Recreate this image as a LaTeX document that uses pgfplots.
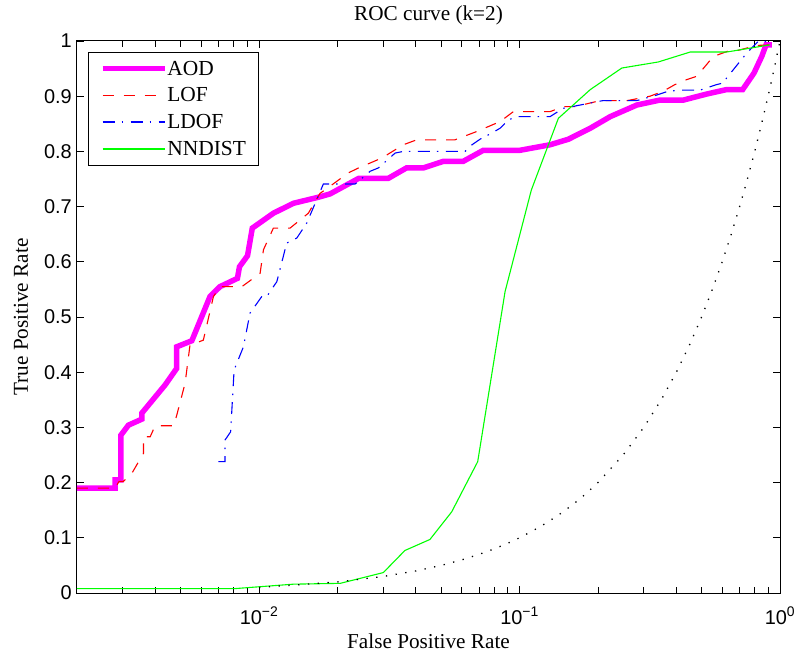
\documentclass[border=0pt]{standalone}
\usepackage{pgfplots}
\pgfplotsset{compat=1.18}
\usepackage{fontspec}
\setmainfont{Liberation Serif}
\newfontfamily\ticksfont{Liberation Sans}
\definecolor{mag}{rgb}{1,0,1}
\definecolor{grn}{rgb}{0,1,0}
\tikzset{
  aodst/.style={draw=mag, line width=5.5bp, dash pattern=},
  lofst/.style={draw=red, line width=1.1bp, dash pattern=on 11bp off 10bp},
  ldofst/.style={draw=blue, line width=1.1bp, dash pattern=on 12bp off 7bp on 1.5bp off 7.5bp},
  nnst/.style={draw=grn, line width=1.1bp, dash pattern=},
}
\begin{document}
\begin{tikzpicture}
\useasboundingbox (0,0) rectangle (798bp,654bp);
\begin{axis}[
  at={(77bp,61bp)}, anchor=south west,
  scale only axis, width=703bp, height=552bp,
  xmode=log, xmin=0.002, xmax=1, ymin=0, ymax=1,
  xtick={0.01,0.1,1},
  xticklabels={10\textsuperscript{−2},10\textsuperscript{−1},10\textsuperscript{0}},
  minor xtick={0.003,0.004,0.005,0.006,0.007,0.008,0.009,0.02,0.03,0.04,0.05,0.06,0.07,0.08,0.09,0.2,0.3,0.4,0.5,0.6,0.7,0.8,0.9},
  ytick={0,0.1,0.2,0.3,0.4,0.5,0.6,0.7,0.8,0.9,1},
  yticklabels={0,0.1,0.2,0.3,0.4,0.5,0.6,0.7,0.8,0.9,1},
  tick align=inside, major tick length=7bp, minor tick length=6bp,
  every tick/.style={black, line width=0.8bp},
  axis line style={line width=1bp},
  ticklabel style={font=\ticksfont\fontsize{20}{20}\selectfont},
  yticklabel style={anchor=east, inner sep=0pt, xshift=-5bp},
  xticklabel style={anchor=north, inner sep=0pt, yshift=-14bp},
  title={ROC curve (k=2)},
  title style={at={(0.5,1.0259)}, anchor=base, font=\fontsize{21.3}{24}\selectfont},
  xlabel={False Positive Rate},
  xlabel style={at={(0.5,-0.1014)}, anchor=base, font=\fontsize{21.3}{24}\selectfont},
  ylabel={True Positive Rate},
  ylabel style={at={(-0.0697,0.5)}, anchor=base, rotate=0, font=\fontsize{21.3}{24}\selectfont},
  legend style={at={(0.0152,0.9806)}, anchor=north west,
    fill=white, inner xsep=12bp, inner ysep=7bp, row sep=7bp,
    font=\fontsize{21.5}{24}\selectfont,
    nodes={inner xsep=0pt, inner ysep=2bp},
    /tikz/every even column/.append style={column sep=7.5bp}},
  legend cell align=left,
]
\addplot[aodst, legend image code/.code={\draw[aodst] (0bp,0bp) -- (62bp,0bp);}] coordinates {
(0.002,0.19)(0.0028,0.19)(0.0028,0.205)(0.00295,0.205)(0.00295,0.286)(0.00315,0.304)(0.00355,0.315)(0.00355,0.326)(0.00436,0.377)(0.00483,0.407)(0.00483,0.446)(0.00552,0.457)(0.00648,0.537)(0.00708,0.555)(0.00826,0.570)(0.00841,0.591)(0.00903,0.611)(0.00942,0.661)(0.01135,0.688)(0.01355,0.706)(0.0169,0.717)(0.01874,0.723)(0.0241,0.751)(0.0313,0.751)(0.0368,0.770)(0.0427,0.770)(0.0510,0.782)(0.0608,0.782)(0.0726,0.802)(0.1004,0.802)(0.131,0.812)(0.154,0.822)(0.187,0.842)(0.223,0.863)(0.282,0.884)(0.346,0.893)(0.426,0.893)(0.524,0.904)(0.624,0.912)(0.719,0.912)(0.795,0.942)(0.851,0.972)(0.884,0.993)(0.93,0.993)
};
\addlegendentry{AOD}
\addplot[lofst, legend image code/.code={\draw[lofst, line width=1.5bp] (0bp,0bp) -- (62bp,0bp);}] coordinates {
(0.002,0.19)(0.0028,0.19)(0.0029,0.202)(0.00301,0.202)(0.00325,0.217)(0.0036,0.253)(0.0036,0.283)(0.00382,0.283)(0.00399,0.303)(0.0047,0.303)(0.00483,0.322)(0.0052,0.380)(0.00543,0.449)(0.00611,0.458)(0.00668,0.537)(0.00708,0.555)(0.00859,0.555)(0.01009,0.579)(0.0104,0.622)(0.01135,0.661)(0.01315,0.661)(0.01546,0.688)(0.01715,0.724)(0.0185,0.735)(0.022,0.761)(0.0241,0.770)(0.0296,0.788)(0.0358,0.812)(0.0403,0.821)(0.0565,0.821)(0.0685,0.836)(0.0842,0.854)(0.0947,0.872)(0.131,0.872)(0.147,0.881)(0.163,0.881)(0.204,0.892)(0.259,0.892)(0.317,0.900)(0.356,0.909)(0.395,0.921)(0.438,0.930)(0.479,0.936)(0.555,0.972)(0.643,0.983)(0.69,0.983)(0.814,0.992)(0.93,0.993)
};
\addlegendentry{LOF}
\addplot[ldofst, legend image code/.code={\draw[ldofst, line width=1.5bp] (0bp,0bp) -- (62bp,0bp);}] coordinates {
(0.00698,0.238)(0.0074,0.238)(0.0074,0.277)(0.00778,0.292)(0.00802,0.404)(0.00871,0.446)(0.00923,0.507)(0.01024,0.537)(0.0107,0.537)(0.0117,0.564)(0.01277,0.634)(0.01396,0.643)(0.01524,0.670)(0.01766,0.741)(0.0211,0.741)(0.0234,0.741)(0.0267,0.764)(0.0287,0.770)(0.0333,0.797)(0.0358,0.800)(0.0618,0.800)(0.0657,0.812)(0.0705,0.822)(0.0782,0.833)(0.0842,0.842)(0.0906,0.857)(0.0976,0.863)(0.131,0.863)(0.147,0.878)(0.171,0.884)(0.209,0.892)(0.282,0.892)(0.336,0.902)(0.367,0.908)(0.407,0.911)(0.493,0.911)(0.571,0.921)(0.606,0.924)(0.624,0.933)(0.662,0.948)(0.702,0.963)(0.745,0.978)(0.823,0.999)(0.916,0.999)
};
\addlegendentry{LDOF}
\addplot[nnst, legend image code/.code={\draw[nnst, line width=1.5bp] (0bp,0bp) -- (62bp,0bp);}] coordinates {
(0.002,0.008)(0.0081,0.008)(0.01355,0.016)(0.0205,0.0175)(0.030,0.037)(0.0363,0.077)(0.0453,0.097)(0.0549,0.147)(0.0691,0.238)(0.088,0.546)(0.111,0.730)(0.141,0.860)(0.187,0.912)(0.247,0.951)(0.341,0.962)(0.452,0.980)(0.624,0.980)(0.916,0.993)
};
\addlegendentry{NNDIST}
\addplot[draw=black, line width=1.3bp, dash pattern=on 1.3bp off 8.5bp, forget plot] coordinates {
(0.01,0.01)(0.02,0.02)(0.03,0.03)(0.04,0.04)(0.05,0.05)(0.06,0.06)(0.07,0.07)(0.08,0.08)(0.09,0.09)(0.1,0.1)(0.12,0.12)(0.14,0.14)(0.16,0.16)(0.18,0.18)(0.2,0.2)(0.25,0.25)(0.3,0.3)(0.35,0.35)(0.4,0.4)(0.45,0.45)(0.5,0.5)(0.55,0.55)(0.6,0.6)(0.65,0.65)(0.7,0.7)(0.75,0.75)(0.8,0.8)(0.85,0.85)(0.9,0.9)(0.95,0.95)(1,1)
};
\end{axis}
\end{tikzpicture}
\end{document}
